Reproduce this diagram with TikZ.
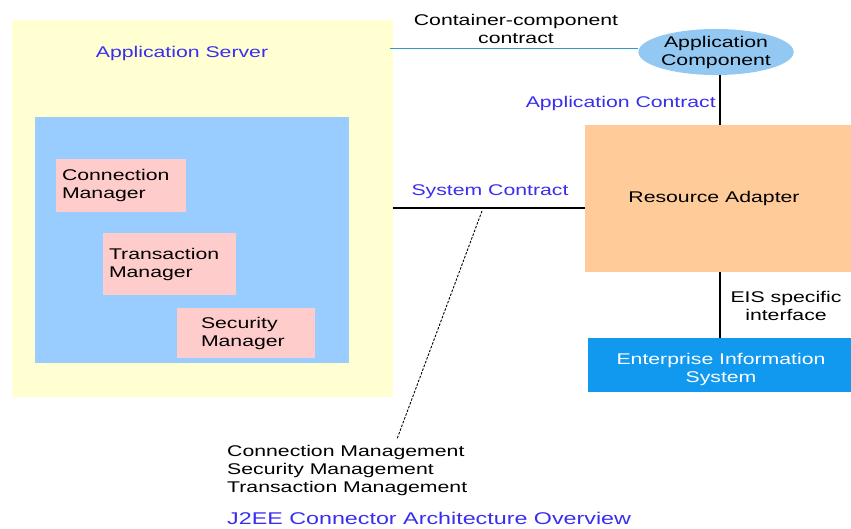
\documentclass[tikz,border=0pt]{standalone}
\usepackage{fontspec}
\setmainfont{Liberation Sans}[FakeStretch=1.37]
\usetikzlibrary{shapes.geometric}
\definecolor{srvyellow}{HTML}{FFFFD2}
\definecolor{innerblue}{HTML}{99CCFF}
\definecolor{mgrpink}{HTML}{FFCCCC}
\definecolor{rapeach}{HTML}{FFCC99}
\definecolor{eisblue}{HTML}{1199F0}
\definecolor{compblue}{HTML}{92C8F2}
\definecolor{lblblue}{HTML}{3A2EEE}
\definecolor{ccline}{HTML}{3399CC}
\newcommand\dtxt{\fontsize{15.5}{18}\selectfont}
\begin{document}
\begin{tikzpicture}[x=1pt,y=-1pt,
  boxn/.style={anchor=north west,inner sep=0pt,outer sep=0pt,draw=none},
  mgr/.style={fill=mgrpink,inner ysep=0pt,outer sep=0pt,align=left,font=\dtxt},
  lbl/.style={font=\dtxt,inner sep=0pt,text=lblblue},
  plain/.style={font=\dtxt,inner sep=0pt,align=center},
  thickline/.style={line width=2.4pt,black},
  thinline/.style={line width=1.1pt,black}]
\useasboundingbox[fill=white] (0,0) rectangle (851,529);
% Application server
\node[boxn,fill=srvyellow,minimum width=381pt,minimum height=377pt] (appserver) at (12,20) {};
\node[lbl] (servlbl) at (182,53) {Application Server};
\node[boxn,fill=innerblue,minimum width=314pt,minimum height=246pt] (inner) at (35,117) {};
\node[mgr,inner xsep=6pt,text width=118pt,minimum height=53pt] (connmgr) at (121,185.5) {Connection\\Manager};
\node[mgr,inner xsep=6pt,text width=121pt,minimum height=62pt] (transmgr) at (169.5,264) {Transaction\\Manager};
\node[mgr,inner xsep=24pt,text width=90pt,minimum height=50pt] (secmgr) at (246,333) {Security\\Manager};
% Application component
\node[ellipse,fill=compblue,minimum width=148pt,minimum height=46pt,inner sep=0pt,font=\dtxt,align=center] (appcomp) at (716,52) {Application\\Component};
\node[plain] (cclbl) at (516,29) {Container-component\\contract};
\coordinate (ccstart) at (390,49);
\draw[ccline,line width=1pt] (ccstart) -- (appcomp.west|-ccstart);
% Resource adapter
\node[boxn,fill=rapeach,minimum width=266pt,minimum height=147pt,font=\dtxt] (ra) at (585,125) {};
\node[font=\dtxt,inner sep=0pt] (ralbl) at (714,198) {Resource Adapter};
\coordinate (aclink) at (720,75);
\draw[thickline] (aclink) -- (aclink|-ra.north);
\node[lbl,anchor=east] (aclbl) at (716,103) {Application Contract};
% System contract
\coordinate (sysstart) at (393,208);
\draw[thickline,line width=2.2pt] (sysstart) -- (ra.west|-sysstart);
\node[lbl] (syslbl) at (490,192) {System Contract};
% EIS
\node[boxn,fill=eisblue,minimum width=263pt,minimum height=54pt] (eis) at (588,338) {};
\node[font=\dtxt,text=white,inner sep=0pt,align=center] (eislbl) at (721,369.5) {Enterprise Information\\System};
\coordinate (eistop) at (720,272);
\draw[thinline] (eistop) -- (eistop|-eis.north);
\node[plain] (eisif) at (786,306) {EIS specific\\interface};
% management list
\node[font=\dtxt,inner sep=0pt,align=left,anchor=west] (mgmt) at (227,470) {Connection Management\\Security Management\\Transaction Management};
\coordinate (dashtop) at (482,211);
\coordinate (dashbot) at (397,439);
\draw[black,line width=0.9pt,dash pattern=on 2.5pt off 1.5pt] (dashtop) -- (dashbot);
% title
\node[font=\fontsize{17}{20}\selectfont,text=lblblue,inner sep=0pt,anchor=west] (title) at (227,518) {J2EE Connector Architecture Overview};
\end{tikzpicture}
\end{document}
